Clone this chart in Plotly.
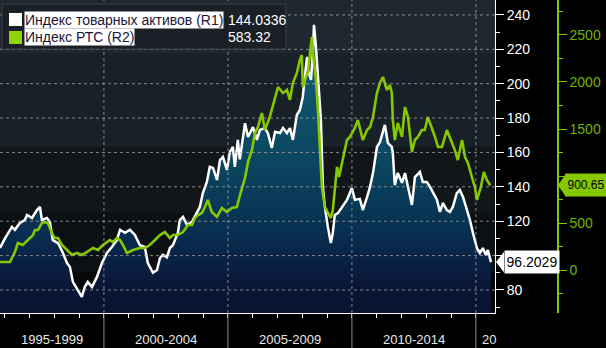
import plotly.graph_objects as go

# ---------------- data ----------------
r1_years = [1995.81, 1996.01, 1996.29, 1996.41, 1996.61, 1996.81, 1996.90, 1997.10, 1997.30, 1997.42,
            1997.50, 1997.70, 1997.82, 1997.94, 1998.15, 1998.35, 1998.51, 1998.63, 1998.75, 1998.95,
            1999.11, 1999.23, 1999.35, 1999.52, 1999.72, 1999.92, 2000.12, 2000.32, 2000.52, 2000.65,
            2000.85, 2001.05, 2001.25, 2001.45, 2001.65, 2001.77, 2001.98, 2002.14, 2002.26, 2002.38,
            2002.54, 2002.66, 2002.78, 2002.98, 2003.06, 2003.19, 2003.35, 2003.55, 2003.75, 2003.87,
            2003.99, 2004.15, 2004.27, 2004.40, 2004.56, 2004.68, 2004.80, 2004.96, 2005.08, 2005.20,
            2005.28, 2005.40, 2005.48, 2005.60, 2005.69, 2005.81, 2006.01, 2006.17, 2006.29, 2006.49,
            2006.61, 2006.77, 2006.90, 2007.10, 2007.22, 2007.38, 2007.50, 2007.62, 2007.78, 2007.90,
            2008.02, 2008.10, 2008.19, 2008.23, 2008.35, 2008.43, 2008.47, 2008.55, 2008.63, 2008.75,
            2008.83, 2008.91, 2009.03, 2009.15, 2009.23, 2009.31, 2009.44, 2009.60, 2009.80, 2010.00,
            2010.12, 2010.32, 2010.44, 2010.61, 2010.73, 2010.85, 2011.01, 2011.13, 2011.25, 2011.33,
            2011.45, 2011.61, 2011.65, 2011.73, 2011.85, 2012.02, 2012.14, 2012.26, 2012.42, 2012.54,
            2012.74, 2012.86, 2013.02, 2013.15, 2013.27, 2013.43, 2013.55, 2013.67, 2013.83, 2013.95,
            2014.07, 2014.23, 2014.35, 2014.48, 2014.64, 2014.76, 2014.88, 2015.04, 2015.16, 2015.28,
            2015.40, 2015.48, 2015.61]
r1_values = [104.4, 110.0, 116.7, 115.0, 119.0, 120.7, 123.6, 121.9, 126.5, 128.3,
             120.7, 121.9, 119.6, 109.0, 107.3, 101.5, 95.7, 93.4, 84.7, 80.0,
             76.0, 81.8, 84.7, 81.8, 87.6, 95.7, 101.5, 105.0, 109.0, 115.0,
             113.2, 115.0, 112.0, 106.0, 105.0, 95.7, 90.0, 91.6, 98.6, 100.4,
             99.0, 104.4, 106.0, 113.0, 120.7, 122.5, 117.8, 119.6, 124.8, 128.3,
             136.4, 142.8, 151.6, 151.0, 144.0, 155.6, 157.4, 149.8, 160.3, 163.2,
             151.6, 167.3, 156.0, 169.0, 177.0, 169.0, 174.8, 167.3, 173.1, 174.2,
             171.3, 162.6, 172.0, 171.3, 174.2, 171.3, 174.2, 167.3, 181.8, 184.7,
             192.3, 203.9, 215.6, 208.0, 202.2, 219.6, 234.2, 221.4, 202.2, 178.9,
             140.0, 128.3, 116.7, 107.3, 113.2, 123.6, 124.8, 128.3, 132.4, 139.3,
             132.4, 133.0, 126.5, 134.0, 140.0, 148.0, 163.2, 166.0, 171.3, 176.0,
             165.5, 163.2, 159.7, 141.0, 148.0, 142.3, 148.0, 140.0, 129.5, 145.7,
             148.7, 142.8, 142.8, 140.0, 137.0, 132.4, 125.4, 130.6, 126.5, 125.4,
             128.3, 136.4, 138.2, 134.1, 126.5, 120.7, 113.2, 104.4, 101.5, 104.4,
             100.4, 103.2, 96.2029]

r2_years = [1995.81, 1996.21, 1996.41, 1996.53, 1996.73, 1997.02, 1997.14, 1997.22, 1997.34, 1997.50,
            1997.62, 1997.74, 1997.90, 1998.02, 1998.15, 1998.31, 1998.51, 1998.71, 1998.91, 1999.11,
            1999.31, 1999.56, 1999.76, 1999.96, 2000.24, 2000.36, 2000.52, 2000.65, 2000.77, 2000.93,
            2001.17, 2001.45, 2001.65, 2001.85, 2002.06, 2002.26, 2002.46, 2002.66, 2002.78, 2002.98,
            2003.19, 2003.39, 2003.55, 2003.67, 2003.79, 2003.95, 2004.07, 2004.19, 2004.35, 2004.56,
            2004.76, 2004.96, 2005.16, 2005.36, 2005.48, 2005.69, 2005.81, 2005.97, 2006.09, 2006.21,
            2006.37, 2006.49, 2006.69, 2006.90, 2007.02, 2007.22, 2007.38, 2007.50, 2007.62, 2007.78,
            2007.90, 2007.98, 2008.02, 2008.15, 2008.23, 2008.31, 2008.39, 2008.43, 2008.55, 2008.63,
            2008.79, 2008.91, 2009.03, 2009.15, 2009.23, 2009.40, 2009.48, 2009.64, 2009.80, 2009.92,
            2010.12, 2010.24, 2010.44, 2010.61, 2010.73, 2010.85, 2011.01, 2011.13, 2011.25, 2011.41,
            2011.53, 2011.61, 2011.65, 2011.73, 2011.85, 2012.02, 2012.14, 2012.26, 2012.42, 2012.54,
            2012.66, 2012.82, 2012.94, 2013.06, 2013.23, 2013.35, 2013.47, 2013.63, 2013.83, 2013.95,
            2014.15, 2014.27, 2014.44, 2014.56, 2014.68, 2014.84, 2014.96, 2015.04, 2015.20, 2015.32,
            2015.44, 2015.58]
r2_values = [85, 85, 191, 287, 266, 340, 372, 425, 425, 500,
             511, 500, 394, 340, 340, 266, 213, 160, 181, 160,
             191, 234, 213, 266, 319, 298, 340, 319, 266, 181,
             213, 234, 234, 266, 319, 372, 404, 340, 372, 372,
             404, 479, 479, 553, 585, 606, 670, 745, 617, 564,
             660, 617, 660, 670, 790, 980, 1150, 1277, 1457, 1521,
             1670, 1489, 1628, 1840, 1947, 1883, 1915, 1809, 1989, 2096,
             2234, 2287, 1947, 2053, 2106, 2309, 2479, 2309, 2021, 1702,
             883, 670, 606, 553, 638, 1096, 989, 1170, 1383, 1415,
             1511, 1596, 1383, 1489, 1521, 1628, 1883, 1989, 2053, 1915,
             1968, 1883, 1596, 1383, 1564, 1415, 1734, 1628, 1255, 1383,
             1415, 1489, 1489, 1628, 1511, 1415, 1309, 1309, 1489, 1415,
             1277, 1170, 1383, 1202, 1138, 989, 883, 745, 883, 1043,
             957, 900.65]

r1_ticks = [80, 100, 120, 140, 160, 180, 200, 220, 240]
r1_ticktext = ["80", "", "120", "140", "160", "180", "200", "220", "240"]   # 100 hidden by value box
r2_ticks = [0, 500, 1000, 1500, 2000, 2500]
r2_ticktext = ["0", "500", "", "1500", "2000", "2500"]                  # 1000 hidden by value box
year_ticks = list(range(1996, 2016))
period_bounds = [2000, 2005, 2010, 2015]
period_labels = ["1995-1999", "2000-2004", "2005-2009", "2010-2014", "20"]

legend_names = ["Индекс товарных активов (R1)", "Индекс РТС (R2)"]
legend_values = ["144.0336", "583.32"]
last_r1_text = "96.2029"
last_r2_text = "900.65"

# ---------------- styling ----------------
W, H = 606, 348
PX_R = 495          # right edge of plotting area (px)
PY_B = 313          # bottom of plotting area (px)
XD1 = PX_R / W
YD0 = 1 - PY_B / H
X_RANGE = [1995.81, 2015.77]
R1_RANGE = [66.6, 248.7]
R2_RANGE = [-457, 2872]
GREEN = "#86c800"
GREEN_TXT = "#74b000"
FONT = "Liberation Sans"

def px(x):
    return x / W

def py(y):
    return 1 - y / H

fig = go.Figure()

fig.add_trace(go.Scatter(
    x=r1_years, y=r1_values, mode="lines", name=legend_names[0],
    line=dict(color="white", width=2.5),
    fill="tozeroy",
    fillgradient=dict(type="vertical", start=R1_RANGE[0], stop=240,
                      colorscale=[[0.0, "#0a1230"], [0.08, "#0a1535"], [0.17, "#0a2044"],
                                  [0.25, "#082c4e"], [0.37, "#093958"], [0.54, "#0c4862"],
                                  [0.77, "#10566e"], [1.0, "#136178"]]),
    yaxis="y", showlegend=False, hoverinfo="skip"))

fig.add_trace(go.Scatter(
    x=r2_years, y=r2_values, mode="lines", name=legend_names[1],
    line=dict(color=GREEN, width=2.6),
    yaxis="y2", showlegend=False, hoverinfo="skip"))

shapes = []
# background bands of the plotting area
bands = [(0, 53, "#1e2831"), (53, 147, "#192128"), (147, 213, "#121619"),
         (213, 272, "#0d1013"), (272, PY_B, "#060708")]
for y0, y1, c in bands:
    shapes.append(dict(type="rect", xref="paper", yref="paper", x0=0, x1=XD1,
                       y0=py(y1), y1=py(y0), fillcolor=c, line=dict(width=0), layer="below"))
# dashed grid lines (above the fill)
for v in r1_ticks:
    shapes.append(dict(type="line", xref="x domain", yref="y", x0=0, x1=1, y0=v, y1=v,
                       line=dict(color="rgba(170,170,170,0.75)", width=1, dash="3px,3px"),
                       layer="above"))
for v in period_bounds:
    shapes.append(dict(type="line", xref="x", yref="y domain", x0=v, x1=v, y0=0, y1=1,
                       line=dict(color="rgba(170,170,170,0.75)", width=1, dash="3px,3px"),
                       layer="above"))
    # separators in the label strip
    shapes.append(dict(type="line", xref="x", yref="paper", x0=v, x1=v, y0=0, y1=YD0,
                       line=dict(color="#8a8a8a", width=1), layer="above"))

# legend box
shapes.append(dict(type="rect", xref="paper", yref="paper", x0=px(2), x1=px(286),
                   y0=py(49), y1=py(4), fillcolor="#1a2026",
                   line=dict(color="#3a4046", width=1), layer="above"))
shapes.append(dict(type="rect", xref="paper", yref="paper", x0=px(9), x1=px(22),
                   y0=py(26), y1=py(13), fillcolor="white", line=dict(width=0), layer="above"))
shapes.append(dict(type="rect", xref="paper", yref="paper", x0=px(9), x1=px(22),
                   y0=py(44), y1=py(31), fillcolor="#8ed400", line=dict(width=0), layer="above"))

# pointer of the last-value labels
last_r1 = r1_values[-1]
last_r2 = r2_values[-1]
h1 = 6.0   # half-height in R1 units
shapes.append(dict(type="path", xref="paper", yref="y",
                   path=f"M {px(496)},{last_r1} L {px(504)},{last_r1 + h1} L {px(504)},{last_r1 - h1} Z",
                   fillcolor="white", line=dict(width=0), layer="above"))
h2 = 125.0
shapes.append(dict(type="path", xref="paper", yref="y2",
                   path=f"M {px(558)},{last_r2} L {px(566)},{last_r2 + h2} L {px(566)},{last_r2 - h2} Z",
                   fillcolor=GREEN, line=dict(width=0), layer="above"))

annotations = []
# legend texts
for i, (nm, val) in enumerate(zip(legend_names, legend_values)):
    yc = 20 if i == 0 else 37.5
    annotations.append(dict(xref="paper", yref="paper", x=px(24), y=py(yc), xanchor="left",
                            yanchor="middle", text=nm, showarrow=False, bgcolor="white",
                            borderpad=0, font=dict(family=FONT, size=14, color="#1b1538")))
    annotations.append(dict(xref="paper", yref="paper", x=px(226), y=py(yc), xanchor="left",
                            yanchor="middle", text=val, showarrow=False,
                            font=dict(family=FONT, size=14, color="white")))
# period labels
centers = [(X_RANGE[0] + 2000) / 2, 2002.5, 2007.5, 2012.5]
for lab, cx in zip(period_labels[:4], centers):
    annotations.append(dict(xref="x", yref="paper", x=cx, y=py(339), xanchor="center",
                            yanchor="middle", text=lab, showarrow=False,
                            font=dict(family=FONT, size=13, color="#e8e8e8")))
annotations.append(dict(xref="x", yref="paper", x=2015.15, y=py(339), xanchor="left",
                        yanchor="middle", text=period_labels[4], showarrow=False,
                        font=dict(family=FONT, size=13, color="#e8e8e8")))
# last value labels
annotations.append(dict(xref="paper", yref="y", x=px(504), y=last_r1, xanchor="left",
                        yanchor="middle", text=last_r1_text, showarrow=False, bgcolor="white",
                        width=50, height=18, borderpad=2,
                        font=dict(family=FONT, size=14, color="black")))
annotations.append(dict(xref="paper", yref="y2", x=px(565), y=last_r2, xanchor="left",
                        yanchor="middle", text=last_r2_text, showarrow=False, bgcolor=GREEN,
                        width=38, height=20, borderpad=1, align="center",
                        font=dict(family=FONT, size=12, color="black")))

fig.update_layout(
    width=W, height=H,
    margin=dict(l=0, r=0, t=0, b=0),
    paper_bgcolor="black", plot_bgcolor="rgba(0,0,0,0)",
    showlegend=False,
    xaxis=dict(domain=[0, XD1], range=X_RANGE, showgrid=False, zeroline=False,
               showline=True, linecolor="white", linewidth=1,
               tickmode="array", tickvals=year_ticks, ticks="outside", ticklen=4,
               tickcolor="white", showticklabels=False),
    yaxis=dict(domain=[YD0, 1], range=R1_RANGE, side="right", anchor="x",
               showgrid=False, zeroline=False, showline=True, linecolor="white", linewidth=1,
               tickmode="array", tickvals=r1_ticks, ticktext=r1_ticktext,
               ticks="outside", ticklen=8,
               tickcolor="white", tickfont=dict(family=FONT, size=14, color="white"),
               minor=dict(dtick=10, tick0=0, ticks="outside", ticklen=4, tickcolor="white")),
    yaxis2=dict(domain=[YD0, 1], range=R2_RANGE, side="right", overlaying="y",
                anchor="free", position=px(558),
                showgrid=False, zeroline=False, showline=True, linecolor=GREEN, linewidth=1.5,
                tickmode="array", tickvals=r2_ticks, ticktext=r2_ticktext,
                ticks="outside", ticklen=8,
                tickcolor=GREEN, tickfont=dict(family=FONT, size=14, color=GREEN_TXT),
                minor=dict(dtick=250, tick0=0, ticks="outside", ticklen=4, tickcolor=GREEN)),
    shapes=shapes,
    annotations=annotations,
)

fig.write_html("out.html")
